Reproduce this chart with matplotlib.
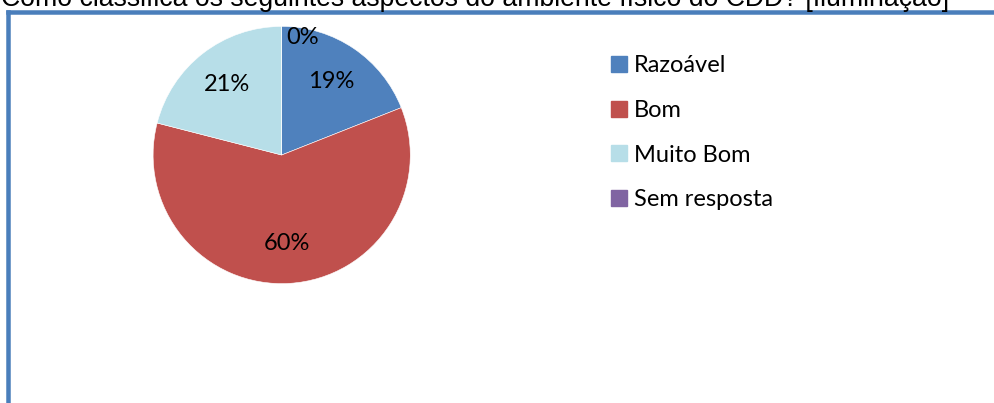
import matplotlib.pyplot as plt
from matplotlib.lines import Line2D
import numpy as np

# data
categories = ['Razoável', 'Bom', 'Muito Bom', 'Sem resposta']
values = [19, 60, 21, 0]
colors = ['#4F81BD', '#C0504D', '#B7DEE8', '#8064A2']
title = 'Como classifica os seguintes aspectos do ambiente físico do CDD? [Iluminação]'

W, H = 995, 403
fig = plt.figure(figsize=(W / 100, H / 100), dpi=100)

# pie placed in pixel coordinates of the original
cx, cy, r = 281.7, 155, 128.6
ax = fig.add_axes([(cx - r) / W, (H - cy - r) / H, 2 * r / W, 2 * r / H])
wedges, texts, autotexts = ax.pie(
    values, colors=colors, startangle=90, counterclock=False,
    autopct='%1.0f%%', pctdistance=0.69,
    wedgeprops=dict(edgecolor='white', linewidth=0.4),
    textprops=dict(fontsize=17, family='Lato', color='black'))
ax.set_xlim(-1, 1)
ax.set_ylim(-1, 1)
ax.set_aspect('equal')
ax.axis('off')

# the zero slice label sits just right of the top
for v, t in zip(values, autotexts):
    if v == 0:
        a = np.deg2rad(80)
        t.set_position((0.93 * np.cos(a), 0.93 * np.sin(a)))

# legend
handles = [plt.Rectangle((0, 0), 1, 1, color=c) for c in colors]
fig.legend(handles, categories, loc='upper left', bbox_to_anchor=(602 / W, 1 - 46 / H),
           frameon=False, prop=dict(family='Lato', size=17),
           handlelength=0.65, handleheight=0.65, handletextpad=0.3,
           labelspacing=1.0, borderaxespad=0)

# title (cut off at the top in the original)
fig.text(1 / W, 1 - 6 / H, title, fontsize=19.2, family='Liberation Sans',
         ha='left', va='baseline')

# chart border (left and top edges)
lw = 4.5 * 72 / 100
fig.add_artist(Line2D([8 / W, 8 / W], [0, 1 - 12 / H], transform=fig.transFigure,
                      color='#4A7EBB', linewidth=lw, solid_capstyle='projecting'))
fig.add_artist(Line2D([8 / W, 1], [1 - 12 / H, 1 - 12 / H], transform=fig.transFigure,
                      color='#4A7EBB', linewidth=lw, solid_capstyle='projecting'))

fig.savefig('out.png', dpi=100)
